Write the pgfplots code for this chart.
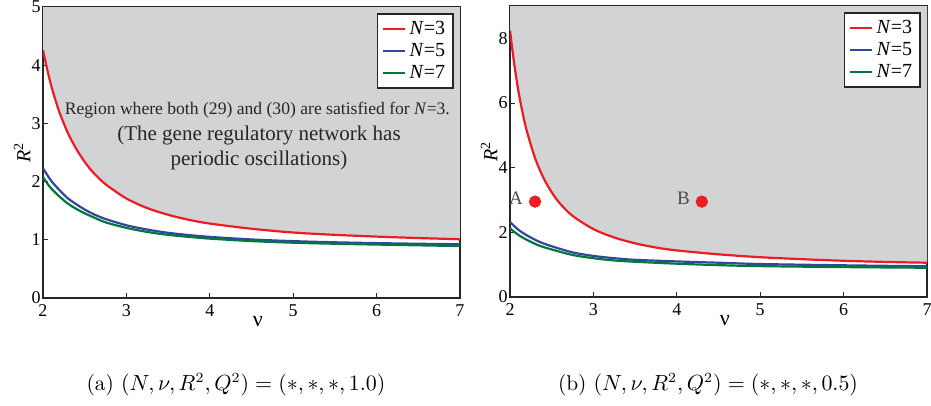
\documentclass[border=0pt]{standalone}
\usepackage{fontspec}
\usepackage{pgfplots}
\usepackage{pgfplotstable}
\pgfplotsset{compat=1.18}
\usepgfplotslibrary{fillbetween}
\newfontfamily\tms{Liberation Serif}

\definecolor{cred}{RGB}{237,28,36}
\definecolor{cblue}{RGB}{50,70,160}
\definecolor{cgreen}{RGB}{0,120,60}
\definecolor{cgray}{RGB}{209,211,212}

% left panel, Q^2 = 1.0
\pgfplotstableread{
nu R
2.00 4.26
2.05 3.93
2.10 3.64
2.15 3.40
2.20 3.18
2.30 2.83
2.40 2.56
2.50 2.34
2.60 2.16
2.75 1.955
3.00 1.71
3.25 1.545
3.50 1.43
3.75 1.343
4.00 1.279
4.50 1.19
5.00 1.125
5.50 1.085
6.00 1.055
6.50 1.03
7.00 1.01
}\redL
\pgfplotstableread{
nu R
2.00 2.23
2.05 2.116
2.10 2.01
2.20 1.85
2.30 1.71
2.40 1.61
2.50 1.52
2.60 1.445
2.75 1.357
3.00 1.25
3.25 1.176
3.50 1.12
3.75 1.081
4.00 1.05
4.50 1.006
5.00 0.977
5.50 0.957
6.00 0.943
6.50 0.932
7.00 0.924
}\blueL
\pgfplotstableread{
nu R
2.00 2.08
2.05 1.97
2.10 1.88
2.20 1.74
2.30 1.62
2.40 1.53
2.50 1.455
2.60 1.39
2.75 1.30
3.00 1.205
3.25 1.135
3.50 1.085
3.75 1.05
4.00 1.02
4.50 0.978
5.00 0.95
5.50 0.932
6.00 0.918
6.50 0.905
7.00 0.893
}\greenL

% right panel, Q^2 = 0.5
\pgfplotstableread{
nu R
2.00 8.24
2.05 7.22
2.10 6.38
2.15 5.71
2.20 5.15
2.30 4.30
2.40 3.69
2.50 3.24
2.60 2.89
2.75 2.51
3.00 2.10
3.25 1.84
3.50 1.66
3.75 1.53
4.00 1.44
4.50 1.32
5.00 1.23
5.50 1.17
6.00 1.12
6.50 1.085
7.00 1.06
}\redR
\pgfplotstableread{
nu R
2.00 2.32
2.10 2.08
2.20 1.91
2.35 1.71
2.50 1.57
2.75 1.38
3.00 1.27
3.25 1.20
3.50 1.15
4.00 1.10
4.50 1.06
5.00 1.02
6.00 0.98
7.00 0.95
}\blueR
\pgfplotstableread{
nu R
2.00 2.12
2.10 1.92
2.20 1.77
2.35 1.59
2.50 1.47
2.75 1.30
3.00 1.20
3.25 1.13
3.50 1.09
4.00 1.03
4.50 0.985
5.00 0.955
6.00 0.925
7.00 0.905
}\greenR

\pgfplotsset{
  panel/.style={
    scale only axis, width=208.5pt, height=145.5pt,
    xmin=2, xmax=7, xtick={2,...,7},
    tick pos=left, tick align=inside,
    major tick length=2.5pt,
    axis line style={black!85, line width=0.8pt},
    tick style={black!85, line width=0.5pt},
    tick label style={font=\tms\fontsize{9}{9}\selectfont},
    /pgf/number format/assume math mode=true,
    yticklabel style={inner xsep=1pt},
    xlabel={\tms ν},
    xlabel style={at={(axis description cs:0.515,-0.08)}, anchor=center, font=\fontsize{11}{11}\selectfont},
    ylabel={\tms\textit{R}\textsuperscript{2}},
    ylabel style={at={(axis description cs:-0.05,0.5)}, anchor=center, rotate=0, font=\fontsize{10}{10}\selectfont},
    legend style={at={(1,1)}, anchor=north east, xshift=-3pt, yshift=-3pt,
      draw=black!85, line width=0.8pt, font=\tms\fontsize{10}{12}\selectfont,
      inner xsep=2pt, inner ysep=1.5pt, row sep=-1pt},
    legend cell align=left,
    legend image code/.code={\draw[#1, line width=1.1pt] (0pt,0pt) -- (11pt,0pt);},
    every axis plot/.append style={line width=1.1pt, no markers},
  }
}

\begin{document}
\begin{tikzpicture}

\begin{axis}[panel, at={(0,0)}, anchor=south west, ymin=0, ymax=5, ytick={0,1,2,3,4,5}]
  \addplot[draw=none, smooth, name path=rL, forget plot] table {\redL};
  \addplot[draw=none, name path=tL, forget plot] coordinates {(2,5) (7,5)};
  \addplot[cgray, forget plot] fill between[of=rL and tL];
  \addplot[cred, smooth] table {\redL};
  \addlegendentry{\textit{N}=3}
  \addplot[cblue, smooth] table {\blueL};
  \addlegendentry{\textit{N}=5}
  \addplot[cgreen, smooth] table {\greenL};
  \addlegendentry{\textit{N}=7}
  \node[font=\tms\fontsize{8.8}{10}\selectfont, text=black!85] at (axis cs:4.57,3.23)
    {Region where both (29) and (30) are satisfied for \textit{N}=3.};
  \node[font=\tms\fontsize{10.5}{12.5}\selectfont, text=black!85, align=center] at (axis cs:4.59,2.58)
    {(The gene regulatory network has\\periodic oscillations)};
\end{axis}

\begin{axis}[panel, at={(233.5pt,0.5pt)}, anchor=south west, ymin=0, ymax=9, ytick={0,2,4,6,8}]
  \addplot[draw=none, smooth, name path=rR, forget plot] table {\redR};
  \addplot[draw=none, name path=tR, forget plot] coordinates {(2,9) (7,9)};
  \addplot[cgray, forget plot] fill between[of=rR and tR];
  \addplot[cred, smooth] table {\redR};
  \addlegendentry{\textit{N}=3}
  \addplot[cblue, smooth] table {\blueR};
  \addlegendentry{\textit{N}=5}
  \addplot[cgreen, smooth] table {\greenR};
  \addlegendentry{\textit{N}=7}
  \addplot[cred, only marks, mark=*, mark size=2.5pt, forget plot] coordinates {(2.3,2.95) (4.3,2.95)};
  \node[font=\tms\fontsize{9.5}{10}\selectfont, text=black!70, anchor=east] at (axis cs:2.24,3.05) {A};
  \node[font=\tms\fontsize{9.5}{10}\selectfont, text=black!70, anchor=east] at (axis cs:4.24,3.05) {B};
\end{axis}

\node[font=\fontsize{10.7}{13}\selectfont] at (96.5pt,-43.5pt) {(a) $(N,\nu,R^2,Q^2)=(*,*,*,1.0)$};
\node[font=\fontsize{10.7}{13}\selectfont] at (332.5pt,-43.5pt) {(b) $(N,\nu,R^2,Q^2)=(*,*,*,0.5)$};

\pgfresetboundingbox
\path[use as bounding box] (-21.5pt,-54pt) rectangle (444pt,149pt);
\end{tikzpicture}
\end{document}
